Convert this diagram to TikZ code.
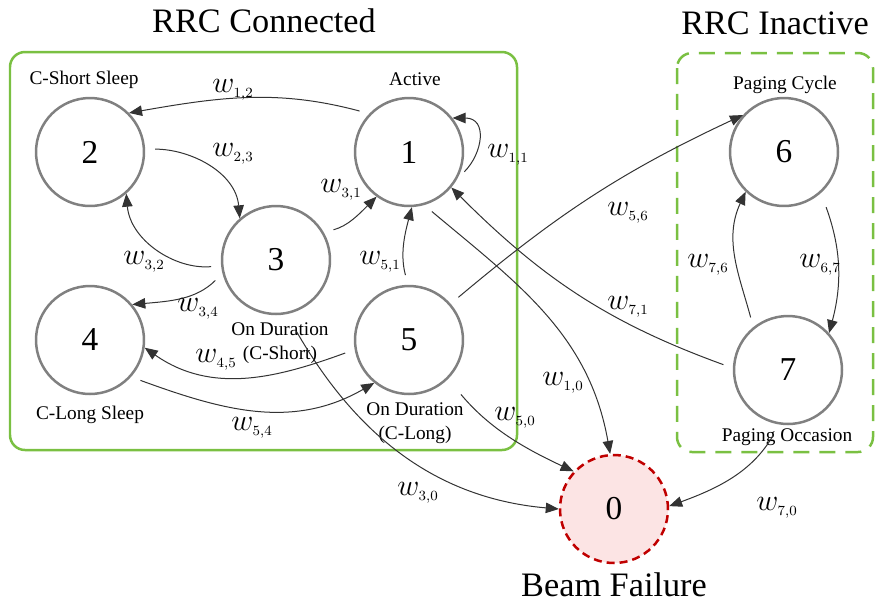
\documentclass[tikz,border=0pt]{standalone}
\usepackage{fontspec}
\setmainfont{Liberation Serif}
\usepackage{amsmath}
\usetikzlibrary{arrows.meta}
\definecolor{rrcgreen}{RGB}{122,192,66}
\definecolor{failred}{RGB}{192,0,0}
\definecolor{failfill}{RGB}{252,228,228}
\definecolor{stategray}{RGB}{128,128,128}
\newcommand{\wt}[1]{$w_{\scriptscriptstyle #1}$}

\begin{document}
\begin{tikzpicture}[x=0.02cm,y=-0.02cm,
  state/.style={circle,draw=stategray,line width=0.05cm,minimum size=2.16cm,inner sep=0pt,font=\fontsize{19}{22}\selectfont},
  tran/.style={draw=black!80,line width=0.02cm,-{Triangle[length=0.26cm,width=0.21cm]},shorten <=0.2cm},
  wlbl/.style={inner sep=0pt,font=\fontsize{16}{18}\selectfont},
  slbl/.style={inner sep=0pt,align=center,font=\fontsize{11}{14}\selectfont},
  title/.style={inner sep=0pt,font=\fontsize{19.5}{22}\selectfont}]
\useasboundingbox (0,0) rectangle (875,606);
\draw[rrcgreen,line width=0.05cm,rounded corners=0.3cm] (10,52) rectangle (517,450);
\draw[rrcgreen,line width=0.05cm,rounded corners=0.3cm,dash pattern=on 0.32cm off 0.2cm] (677,53) rectangle (873,452);
\node[title] (rrccon) at (264,21) {RRC Connected};
\node[title] (rrcina) at (775,23) {RRC Inactive};
\node[title] (beam) at (614,585) {Beam Failure};
\node[state] (s1) at (409,152) {1};
\node[state] (s2) at (90,152) {2};
\node[state] (s3) at (276,260) {3};
\node[state] (s4) at (90,340) {4};
\node[state] (s5) at (409,340) {5};
\node[state] (s6) at (784,152) {6};
\node[state] (s7) at (788,370) {7};
\node[state,draw=failred,fill=failfill,dash pattern=on 0.16cm off 0.1cm] (s0) at (614,509) {0};
\node[slbl] (t1) at (415,79) {Active};
\node[slbl] (t2) at (84,80) {C-Short Sleep};
\node[slbl] (t3) at (280,343) {On Duration\\(C-Short)};
\node[slbl] (t4) at (90,415) {C-Long Sleep};
\node[slbl] (t5) at (415,423) {On Duration\\(C-Long)};
\node[slbl] (t6) at (785,85) {Paging Cycle};
\node[slbl] (t7) at (787,437) {Paging Occasion};
\draw[tran] (s1.136) to[out=165,in=10] (s2.45);
\draw[tran] (s2.3) to[out=0,in=95] (s3.131);
\draw[tran] (s3.30) to[out=15,in=225] (s1.234);
\draw[tran] (s1.-29) to[out=45,in=0,looseness=1.5] (s1.38);
\draw[tran] (s3.186) to[out=185,in=275] (s2.311);
\draw[tran] (s3.194) to[out=225,in=5] (s4.40);
\draw[tran] (s5.91) to[out=105,in=255] (s1.273);
\draw[tran] (s5.190) to[out=200,in=-35] (s4.-8);
\draw[tran] (s4.-42) to[out=-20,in=210] (s5.231);
\draw[tran] (s5.41) to[out=40,in=205] (s6.138);
\draw[tran] (s7.178) to[out=160,in=-45] (s1.-40);
\draw[tran] (s1.-74) to[out=-40,in=100] (s0.94);
\draw[tran,shorten <=0.4cm] (s5.-45) to[out=-50,in=155] (s0.137);
\draw[tran,shorten <=0.4cm] (s3.-79) to[out=-60,in=175] (s0.180);
\draw[tran,shorten <=0.26cm] (s7.-99) to[out=240,in=20] (s0.3);
\draw[tran,shorten <=0.3cm] (s6.-48) to[out=-70,in=75] (s7.42);
\draw[tran] (s7.129) to[out=105,in=245] (s6.226);
\node[wlbl] (l12) at (233,90) {\wt{1,2}};
\node[wlbl] (l23) at (233,154) {\wt{2,3}};
\node[wlbl] (l31) at (341,190) {\wt{3,1}};
\node[wlbl] (l11) at (508,155) {\wt{1,1}};
\node[wlbl] (l32) at (144,262) {\wt{3,2}};
\node[wlbl] (l34) at (198,309) {\wt{3,4}};
\node[wlbl] (l51) at (380,262) {\wt{5,1}};
\node[wlbl] (l45) at (216,360) {\wt{4,5}};
\node[wlbl] (l54) at (252,428) {\wt{5,4}};
\node[wlbl] (l56) at (628,213) {\wt{5,6}};
\node[wlbl] (l76) at (708,265) {\wt{7,6}};
\node[wlbl] (l67) at (820,265) {\wt{6,7}};
\node[wlbl] (l71) at (628,307) {\wt{7,1}};
\node[wlbl] (l10) at (563,383) {\wt{1,0}};
\node[wlbl] (l50) at (515,418) {\wt{5,0}};
\node[wlbl] (l30) at (418,493) {\wt{3,0}};
\node[wlbl] (l70) at (777,508) {\wt{7,0}};
\end{tikzpicture}
\end{document}
